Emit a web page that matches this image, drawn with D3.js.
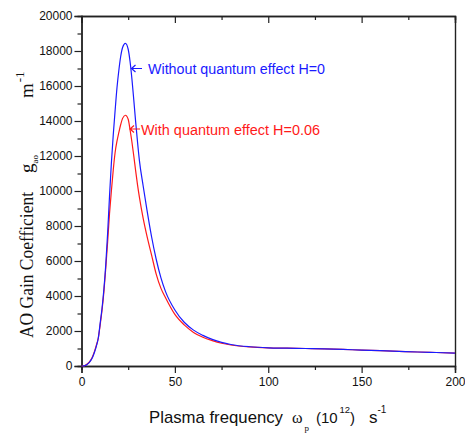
<!DOCTYPE html>
<html><head><meta charset="utf-8">
<script src="https://cdn.jsdelivr.net/npm/d3@7"></script>
<style>
body{margin:0;background:#fff;}
svg{display:block;}
</style></head>
<body>
<svg id="c" width="465" height="434" font-family="Liberation Sans, Arial, sans-serif"></svg>
<script>
const omega = [0,1,2,3,4,5,6,7,8,9,10,11,12,13,14,15,16,17,18,19,20,21,22,23.5,25,26,27,28,29,30,31,33,35,37.5,40,42.5,45,50,55,60,65,70,75,80,90,100,110,120,130,140,150,160,170,180,190,200];
const gainNoQuantum = [0,0,30,90,180,320,520,800,1150,1600,2450,3300,4400,5800,7600,9700,11600,13200,14600,15900,16900,17700,18200,18440,18100,17400,16400,15200,13950,12800,11750,10300,8950,7400,6100,5050,4250,3200,2500,2050,1750,1520,1350,1230,1100,1040,1020,1000,980,950,910,880,840,800,770,740];
const gainQuantum = [0,0,40,110,210,350,560,850,1200,1600,2350,3200,4250,5600,7100,8700,10000,11200,12200,12850,13350,13800,14150,14330,14100,13500,12800,12000,11150,10350,9650,8450,7450,6350,5250,4450,3900,2950,2350,1920,1640,1450,1300,1200,1090,1040,1020,1000,980,950,910,880,840,800,770,740];
const xMajorTicks = [0,50,100,150,200];
const xMinorTicks = [25,75,125,175];
const yMajorTicks = [0,2000,4000,6000,8000,10000,12000,14000,16000,18000,20000];
const yMinorTicks = [1000,3000,5000,7000,9000,11000,13000,15000,17000,19000];
const seriesLabels = ["Without quantum effect H=0","With quantum effect H=0.06"];

const svg = d3.select("#c");
const L=81.5, R=455, T=16, B=366;
const x = d3.scaleLinear().domain([0,200]).range([L,R]);
const y = d3.scaleLinear().domain([0,20000]).range([B,T]);
const sans = "Liberation Sans, Arial, sans-serif";
const serif = "Liberation Serif, Times New Roman, serif";

function style(g){ g.selectAll("path").attr("stroke","#222").attr("stroke-width",1.4);
  g.selectAll("line").attr("stroke","#222").attr("stroke-width",1.2);
  g.selectAll("text").attr("font-size",12).attr("fill","#111").attr("font-family",sans); }

svg.append("g").attr("transform",`translate(${L},0)`)
  .call(d3.axisLeft(y).tickValues(yMinorTicks).tickSize(4).tickFormat("")).call(style);
svg.append("g").attr("transform",`translate(${L},0)`)
  .call(d3.axisLeft(y).tickValues(yMajorTicks).tickSize(7).tickPadding(2).tickFormat(d3.format("d"))).call(style);

svg.append("g").attr("transform",`translate(0,${B})`)
  .call(d3.axisBottom(x).tickValues(xMinorTicks).tickSize(4).tickFormat("")).call(style);
svg.append("g").attr("transform",`translate(0,${B})`)
  .call(d3.axisBottom(x).tickValues(xMajorTicks).tickSize(7).tickPadding(4).tickFormat(d3.format("d"))).call(style);

svg.append("g").attr("transform",`translate(0,${T})`)
  .call(d3.axisTop(x).tickValues(xMinorTicks).tickSize(-4).tickFormat("")).call(style);
svg.append("g").attr("transform",`translate(0,${T})`)
  .call(d3.axisTop(x).tickValues(xMajorTicks).tickSize(-7).tickFormat("")).call(style);
svg.append("g").attr("transform",`translate(${R},0)`)
  .call(d3.axisRight(y).tickValues([]).tickSize(0)).call(style);

const line = d3.line().x((d,i)=>x(omega[i])).y(d=>y(d)).curve(d3.curveMonotoneX);
svg.append("path").datum(gainQuantum).attr("d",line).attr("fill","none").attr("stroke","#ff1a1a").attr("stroke-width",1.2);
svg.append("path").datum(gainNoQuantum).attr("d",line).attr("fill","none").attr("stroke","#1a1aff").attr("stroke-width",1.2);

function arrow(x0,x1,yy,col){
  svg.append("path").attr("d",`M${x1},${yy}H${x0}M${x0+4},${yy-3.5}L${x0},${yy}L${x0+4},${yy+3.5}`)
    .attr("fill","none").attr("stroke",col).attr("stroke-width",1.2);
}
arrow(131.5,142,68.5,"#1a1aff");
svg.append("text").attr("x",148).attr("y",74).attr("font-size",15.5).attr("fill","#1a1aff")
  .attr("textLength",177).attr("lengthAdjust","spacingAndGlyphs").text(seriesLabels[0]);
arrow(130,140,129,"#ff1a1a");
svg.append("text").attr("x",141).attr("y",134.5).attr("font-size",15.5).attr("fill","#ff1a1a")
  .attr("textLength",179).attr("lengthAdjust","spacingAndGlyphs").text(seriesLabels[1]);

// y title
const yt = svg.append("g").attr("transform","translate(33,0) rotate(-90)").attr("font-family",serif).attr("fill","#111");
yt.append("text").attr("x",-338).attr("y",0).attr("font-size",19).attr("textLength",146).attr("lengthAdjust","spacingAndGlyphs").text("AO Gain Coefficient");
const g1 = yt.append("text").attr("x",-173).attr("y",0).attr("font-size",19);
g1.append("tspan").text("g");
g1.append("tspan").attr("font-size",9).attr("dy",5).text("ao");
const m1 = yt.append("text").attr("x",-98).attr("y",0).attr("font-size",19);
m1.append("tspan").text("m");
m1.append("tspan").attr("font-size",13).attr("dx",1).attr("dy",-9).text("-1");

// x title
const xt = svg.append("g").attr("fill","#111");
xt.append("text").attr("x",149).attr("y",423).attr("font-size",17).attr("textLength",134).attr("lengthAdjust","spacingAndGlyphs").text("Plasma frequency");
const w1 = xt.append("text").attr("x",292).attr("y",423).attr("font-family",serif).attr("font-size",16);
w1.append("tspan").text("ω");
w1.append("tspan").attr("font-size",9).attr("dx",2).attr("dy",8).text("p");
xt.append("text").attr("x",316).attr("y",423).attr("font-size",15).text("(10");
xt.append("text").attr("x",339.5).attr("y",413).attr("font-size",9.5).text("12");
xt.append("text").attr("x",350).attr("y",423).attr("font-size",15).text(")");
const s1 = xt.append("text").attr("x",369).attr("y",423).attr("font-size",17);
s1.append("tspan").text("s");
s1.append("tspan").attr("font-size",10).attr("dy",-10).text("-1");
</script>
</body></html>
